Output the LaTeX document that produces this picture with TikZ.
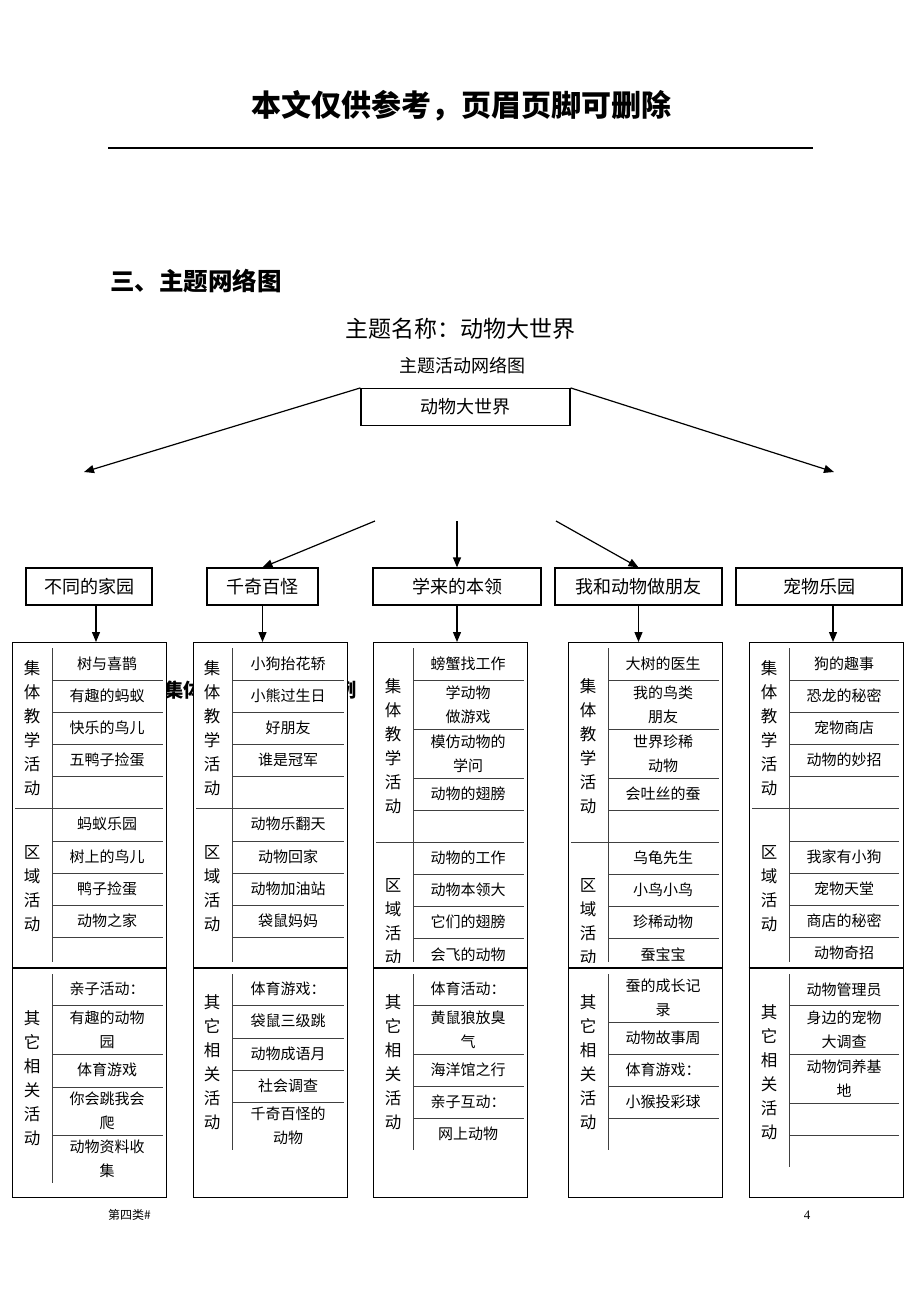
\documentclass[tikz,border=0pt]{standalone}
\usepackage{fontspec}
\setmainfont{Liberation Serif}
\newfontfamily\hei{Noto Sans CJK SC}
\usetikzlibrary{arrows.meta}

\tikzset{
  box/.style={draw, line width=1.2pt, minimum height=37, inner sep=0pt,
    font=\hei\fontsize{18}{20}\selectfont},
  tbl/.style={draw, line width=1.3pt, fill=white, anchor=north west,
    minimum width=154, inner sep=0pt},
  arr/.style={line width=1.2pt, -{Triangle[length=10pt,width=8pt]}},
  cell/.style={line width=0.8pt, black!75},
  sep/.style={line width=1.3pt},
  item/.style={font=\hei\fontsize{15}{24}\selectfont, align=center, inner sep=0pt},
  lbl/.style={font=\hei\fontsize{16.5}{24}\selectfont, align=center, inner sep=0pt},
  hidden/.style={inner sep=0pt, font=\hei\bfseries\fontsize{19.3}{20}\selectfont},
}

\begin{document}
\begin{tikzpicture}[x=1pt,y=-1pt]
  \useasboundingbox[fill=white] (0,0) rectangle (920,1302);
  % page header and titles
  \node[font=\hei\bfseries\fontsize{30}{30}\selectfont] (hdr) at (461,106) {本文仅供参考，页眉页脚可删除};
  \draw[line width=1.2pt] (108,148) -- (813,148);
  \node[anchor=west, inner sep=0pt, font=\hei\bfseries\fontsize{24.5}{25}\selectfont] (sec) at (110,281) {三、主题网络图};
  \node[font=\hei\fontsize{23}{23}\selectfont] (name) at (460,329) {主题名称：动物大世界};
  \node[font=\hei\fontsize{18}{18}\selectfont] (sub) at (462,366) {主题活动网络图};
  % heading showing between the tables
  \begin{scope}
    \clip (166,670) rectangle (193,710);
    \node[hidden, anchor=west] (hid1) at (164,690) {集体};
  \end{scope}
  \begin{scope}
    \clip (347,670) rectangle (373,710);
    \node[hidden, anchor=east] (hid2) at (357,690) {例};
  \end{scope}

  % theme boxes
  \node[box, minimum width=209] (m) at (465.5,407) {动物大世界};
  \node[box, minimum width=126] (b1) at (89,586.5) {不同的家园};
  \node[box, minimum width=111] (b2) at (262.5,586.5) {千奇百怪};
  \node[box, minimum width=168] (b3) at (457,586.5) {学来的本领};
  \node[box, minimum width=167] (b4) at (638.5,586.5) {我和动物做朋友};
  \node[box, minimum width=166] (b5) at (819,586.5) {宠物乐园};

  \coordinate (lt) at (84,472);
  \coordinate (rt) at (834,472);
  \coordinate (s2) at (375,521);
  \coordinate (s3) at (457,521);
  \coordinate (s4) at (556,521);
  \draw[arr] (m.north west) -- (lt);
  \draw[arr] (m.north east) -- (rt);
  \draw[arr] (s2) -- (b2.north);
  \draw[arr] (s3) -- (b3.north);
  \draw[arr] (s4) -- (b4.north);

  % tables
  \node[tbl, minimum height=555] (t1) at (12,642) {};
  \node[tbl, minimum height=555] (t2) at (193,642) {};
  \node[tbl, minimum height=555] (t3) at (373,642) {};
  \node[tbl, minimum height=555] (t4) at (568,642) {};
  \node[tbl, minimum height=555] (t5) at (748.5,642) {};

  \coordinate (a1) at ([xshift=7]b1.south);
  \coordinate (a5) at ([xshift=14]b5.south);
  \draw[arr] (a1) -- (a1 |- t1.north);
  \draw[arr] (b2.south) -- (b2.south |- t2.north);
  \draw[arr] (b3.south) -- (b3.south |- t3.north);
  \draw[arr] (b4.south) -- (b4.south |- t4.north);
  \draw[arr] (a5) -- (a5 |- t5.north);

  % table 1
  \foreach \y in {680,712,744,776,841,873,905,937,1005,1054,1087,1135}
    \draw[cell] (52,\y) -- (163,\y);
  \draw[cell] (15,808) -- (163,808);
  \draw[cell] (52,648) -- (52,962) (52,974) -- (52,1183);
  \draw[sep] (12,968) -- (166,968);
  \node[lbl] (t1ja) at (32,728) {集\\体\\教\\学\\活\\动};
  \node[lbl] (t1qy) at (32,889) {区\\域\\活\\动};
  \node[lbl] (t1qt) at (32,1078) {其\\它\\相\\关\\活\\动};
  \foreach \t/\y [count=\i] in {树与喜鹊/664,有趣的蚂蚁/696,快乐的鸟儿/728,五鸭子捡蛋/760,
      蚂蚁乐园/824,树上的鸟儿/857,鸭子捡蛋/889,动物之家/921,
      亲子活动：/989,有趣的动物\\园/1030,体育游戏/1070,你会跳我会\\爬/1111,动物资料收\\集/1159}
    \node[item] (t1i\i) at (107,\y) {\t};

  % table 2
  \foreach \y in {680,712,744,776,841,873,905,937,1005,1038,1070,1102}
    \draw[cell] (232,\y) -- (344,\y);
  \draw[cell] (196,808) -- (344,808);
  \draw[cell] (232,648) -- (232,962) (232,974) -- (232,1150);
  \draw[sep] (193,968) -- (347,968);
  \node[lbl] (t2ja) at (212,728) {集\\体\\教\\学\\活\\动};
  \node[lbl] (t2qy) at (212,889) {区\\域\\活\\动};
  \node[lbl] (t2qt) at (212,1062) {其\\它\\相\\关\\活\\动};
  \foreach \t/\y [count=\i] in {小狗抬花轿/664,小熊过生日/696,好朋友/728,谁是冠军/760,
      动物乐翻天/824,动物回家/857,动物加油站/889,袋鼠妈妈/921,
      体育游戏：/989,袋鼠三级跳/1021,动物成语月/1054,社会调查/1086,千奇百怪的\\动物/1126}
    \node[item] (t2i\i) at (288,\y) {\t};

  % table 3
  \foreach \y in {680,729,778,810,874,906,938,1005,1054,1086,1118}
    \draw[cell] (413,\y) -- (524,\y);
  \draw[cell] (376,842) -- (524,842);
  \draw[cell] (413,648) -- (413,962) (413,974) -- (413,1150);
  \draw[sep] (373,968) -- (527,968);
  \node[lbl] (t3ja) at (393,746) {集\\体\\教\\学\\活\\动};
  \node[lbl] (t3qt) at (393,1062) {其\\它\\相\\关\\活\\动};
  \foreach \t/\y [count=\i] in {螃蟹找工作/664,学动物\\做游戏/705,模仿动物的\\学问/754,动物的翅膀/794,
      体育活动：/989,黄鼠狼放臭\\气/1030,海洋馆之行/1070,亲子互动：/1102,网上动物/1134}
    \node[item] (t3i\i) at (468,\y) {\t};
  \begin{scope}
    \clip (373,842) rectangle (527,962);
    \node[lbl] (t3qy) at (393,922) {区\\域\\活\\动};
    \foreach \t/\y [count=\i] in {动物的工作/858,动物本领大/890,它们的翅膀/922,会飞的动物/955}
      \node[item] (t3j\i) at (468,\y) {\t};
  \end{scope}

  % table 4
  \foreach \y in {680,729,778,810,874,906,938,1022,1054,1086,1118}
    \draw[cell] (608,\y) -- (719,\y);
  \draw[cell] (571,842) -- (719,842);
  \draw[cell] (608,648) -- (608,962) (608,974) -- (608,1150);
  \draw[sep] (568,968) -- (722,968);
  \node[lbl] (t4ja) at (588,746) {集\\体\\教\\学\\活\\动};
  \node[lbl] (t4qt) at (588,1062) {其\\它\\相\\关\\活\\动};
  \foreach \t/\y [count=\i] in {大树的医生/664,我的鸟类\\朋友/705,世界珍稀\\动物/754,会吐丝的蚕/794,
      蚕的成长记\\录/998,动物故事周/1038,体育游戏：/1070,小猴投彩球/1102}
    \node[item] (t4i\i) at (663,\y) {\t};
  \begin{scope}
    \clip (568,842) rectangle (722,962);
    \node[lbl] (t4qy) at (588,922) {区\\域\\活\\动};
    \foreach \t/\y [count=\i] in {乌龟先生/858,小鸟小鸟/890,珍稀动物/922,蚕宝宝/955}
      \node[item] (t4j\i) at (663,\y) {\t};
  \end{scope}

  % table 5
  \foreach \y in {680,712,744,776,841,873,905,937,1005,1054,1103,1135}
    \draw[cell] (789,\y) -- (899,\y);
  \draw[cell] (752,808) -- (899,808);
  \draw[cell] (789,648) -- (789,962) (789,974) -- (789,1167);
  \draw[sep] (748.5,968) -- (902.5,968);
  \node[lbl] (t5ja) at (769,728) {集\\体\\教\\学\\活\\动};
  \node[lbl] (t5qy) at (769,889) {区\\域\\活\\动};
  \node[lbl] (t5qt) at (769,1072) {其\\它\\相\\关\\活\\动};
  \foreach \t/\y [count=\i] in {狗的趣事/664,恐龙的秘密/696,宠物商店/728,动物的妙招/760,
      我家有小狗/857,宠物天堂/889,商店的秘密/921,动物奇招/953,
      动物管理员/990,身边的宠物\\大调查/1030,动物饲养基\\地/1079}
    \node[item] (t5i\i) at (844,\y) {\t};

  % footer
  \node[anchor=west, inner sep=0pt, font=\hei\fontsize{12}{12}\selectfont] (ftl) at (108,1215) {第四类\#};
  \node[font=\fontsize{13}{13}\selectfont] (ftr) at (807,1215) {4};
\end{tikzpicture}
\end{document}
